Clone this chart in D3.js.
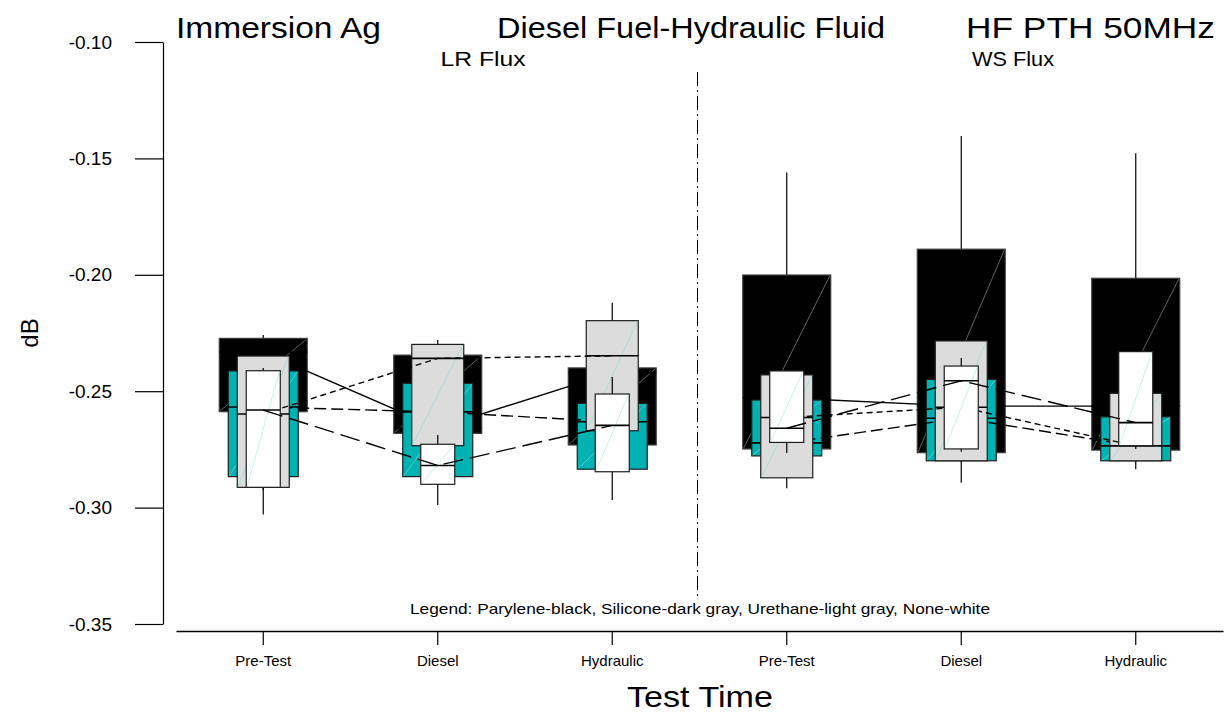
<!DOCTYPE html>
<html>
<head>
<meta charset="utf-8">
<script src="https://cdn.jsdelivr.net/npm/d3@7"></script>
<style>
  body { margin: 0; background: #fff; }
  svg { display: block; }
  text { font-family: "Liberation Sans", Arial, sans-serif; fill: #000; }
</style>
</head>
<body>
<svg id="chart" width="1225" height="715"></svg>
<script>
// ---------------- DATA ----------------
const categories = ["Pre-Test", "Diesel", "Hydraulic", "Pre-Test", "Diesel", "Hydraulic"];
const fluxGroups = [
  { label: "LR Flux", groups: [0, 1, 2] },
  { label: "WS Flux", groups: [3, 4, 5] }
];
const yTicks = [-0.10, -0.15, -0.20, -0.25, -0.30, -0.35];

// each entry: [whiskerLow, q1, median, q3, whiskerHigh]  (dB)
const parylene = [
  [-0.2624, -0.2588, -0.2332, -0.2273, -0.2259],
  [-0.2710, -0.2681, -0.2658, -0.2345, -0.2323],
  [-0.2753, -0.2731, -0.2420, -0.2400, -0.2387],
  [-0.2761, -0.2748, -0.2529, -0.2001, -0.1561],
  [-0.2774, -0.2764, -0.2564, -0.1890, -0.1404],
  [-0.2761, -0.2753, -0.2564, -0.2015, -0.1478]
];
const silicone = [
  [-0.2890, -0.2867, -0.2568, -0.2413, -0.2400],
  [-0.2881, -0.2867, -0.2589, -0.2466, -0.2443],
  [-0.2847, -0.2835, -0.2631, -0.2552, -0.2538],
  [-0.2787, -0.2778, -0.2722, -0.2538, -0.2525],
  [-0.2804, -0.2799, -0.2616, -0.2449, -0.2435],
  [-0.2804, -0.2799, -0.2735, -0.2610, -0.2598]
];
const urethane = [
  [-0.2924, -0.2913, -0.2598, -0.2349, -0.2332],
  [-0.2753, -0.2734, -0.2359, -0.2299, -0.2280],
  [-0.2688, -0.2670, -0.2348, -0.2197, -0.2120],
  [-0.2917, -0.2872, -0.2613, -0.2430, -0.2418],
  [-0.2893, -0.2799, -0.2569, -0.2284, -0.2271],
  [-0.2835, -0.2799, -0.2735, -0.2509, -0.2495]
];
const none = [
  [-0.3030, -0.2913, -0.2581, -0.2412, -0.2400],
  [-0.2989, -0.2900, -0.2819, -0.2728, -0.2688],
  [-0.2967, -0.2846, -0.2647, -0.2512, -0.2439],
  [-0.2765, -0.2720, -0.2659, -0.2413, -0.2405],
  [-0.2760, -0.2748, -0.2455, -0.2392, -0.2357],
  [-0.2748, -0.2734, -0.2635, -0.2330, -0.2314]
];
const dividerRange = [-0.1129, -0.3388];

// ---------------- STYLE ----------------
const series = [
  { data: parylene, fill: "#000000", stroke: "#3c3c3c", diag: "#7a7a7a", width: 0.504, dash: null },
  { data: silicone, fill: "#00b2b2", stroke: "#1e1e1e", diag: "#6fd3d3", width: 0.401, dash: "12,5" },
  { data: urethane, fill: "#dcdcdc", stroke: "#1e1e1e", diag: "#9fd9d9", width: 0.298, dash: "6,4" },
  { data: none,     fill: "#ffffff", stroke: "#1e1e1e", diag: "#bfe9e9", width: 0.195, dash: "20,7" }
];

const svg = d3.select("#chart");
const x = d3.scaleBand().domain(d3.range(categories.length)).range([176, 1223]).padding(0);
const y = d3.scaleLinear().domain([-0.35, -0.10]).range([624, 42]);
const cx = i => x(i) + x.bandwidth() / 2;

// ---------------- AXES ----------------
const yAxis = d3.axisLeft(y).tickValues(yTicks).tickSize(28).tickSizeOuter(0).tickPadding(23)
  .tickFormat(d => d.toFixed(2));
const yg = svg.append("g").attr("transform", "translate(163,0)").call(yAxis);
yg.selectAll("text").style("font-size", "19px").attr("font-family", "Liberation Sans, Arial, sans-serif");
yg.selectAll("line, path").attr("stroke", "#000").attr("stroke-width", 1.2);

const xAxis = d3.axisBottom(x).tickSize(14).tickSizeOuter(0).tickPadding(10)
  .tickFormat(i => categories[i]);
const xg = svg.append("g").attr("transform", "translate(0,631)").call(xAxis);
xg.selectAll("text").style("font-size", "15px").attr("font-family", "Liberation Sans, Arial, sans-serif");
xg.selectAll("line, path").attr("stroke", "#000").attr("stroke-width", 1.2);
xg.select(".domain").attr("stroke-width", 1.5);

// divider between flux groups
svg.append("line")
  .attr("x1", x(3) - 2).attr("x2", x(3) - 2)
  .attr("y1", y(dividerRange[0])).attr("y2", y(dividerRange[1]))
  .attr("stroke", "#000").attr("stroke-width", 1)
  .attr("stroke-dasharray", "14,4,2,4");

// ---------------- BOXES + MEDIAN LINES ----------------
series.forEach(s => {
  const g = svg.append("g");
  const bw = x.bandwidth() * s.width;
  s.data.forEach((d, i) => {
    const [wl, q1, med, q3, wh] = d;
    const left = cx(i) - bw / 2, right = cx(i) + bw / 2;
    g.append("line").attr("x1", cx(i)).attr("x2", cx(i))
      .attr("y1", y(wh)).attr("y2", y(wl))
      .attr("stroke", "#000").attr("stroke-width", 1.2);
    g.append("rect").attr("x", left).attr("y", y(q3))
      .attr("width", bw).attr("height", y(q1) - y(q3))
      .attr("fill", s.fill).attr("stroke", s.stroke).attr("stroke-width", 1.2);
    g.append("line").attr("x1", left + 1).attr("y1", y(q1) - 1)
      .attr("x2", right - 1).attr("y2", y(q3) + 1)
      .attr("stroke", s.diag).attr("stroke-width", 0.8);
    g.append("line").attr("x1", left).attr("x2", right)
      .attr("y1", y(med)).attr("y2", y(med))
      .attr("stroke", "#000").attr("stroke-width", 1.6);
  });
  fluxGroups.forEach(fg => {
    const pts = fg.groups.map(i => [i, s.data[i][2]]);
    g.append("path")
      .attr("d", d3.line().x(p => cx(p[0])).y(p => y(p[1]))(pts))
      .attr("fill", "none").attr("stroke", "#000").attr("stroke-width", 1.4)
      .attr("stroke-dasharray", s.dash);
  });
});

// ---------------- TEXT ----------------
function txt(str, xx, yy, size, anchor, len) {
  const t = svg.append("text").attr("x", xx).attr("y", yy)
    .attr("text-anchor", anchor).style("font-size", size + "px").text(str);
  if (len) t.attr("textLength", len).attr("lengthAdjust", "spacingAndGlyphs");
  return t;
}
txt("Immersion Ag", 176, 38, 30, "start", 205);
txt("Diesel Fuel-Hydraulic Fluid", 691, 38, 30, "middle", 388);
txt("HF PTH 50MHz", 1215, 38, 30, "end", 249);
txt(fluxGroups[0].label, 483, 66, 21, "middle", 85);
txt(fluxGroups[1].label, 1013, 66, 21, "middle", 82);
txt("Legend: Parylene-black, Silicone-dark gray, Urethane-light gray, None-white", 700, 614, 15, "middle", 580);
txt("Test Time", 700, 707, 29, "middle", 146);
svg.append("text").attr("transform", "translate(38,333) rotate(-90)")
  .attr("text-anchor", "middle").style("font-size", "24px").text("dB");
</script>
</body>
</html>
